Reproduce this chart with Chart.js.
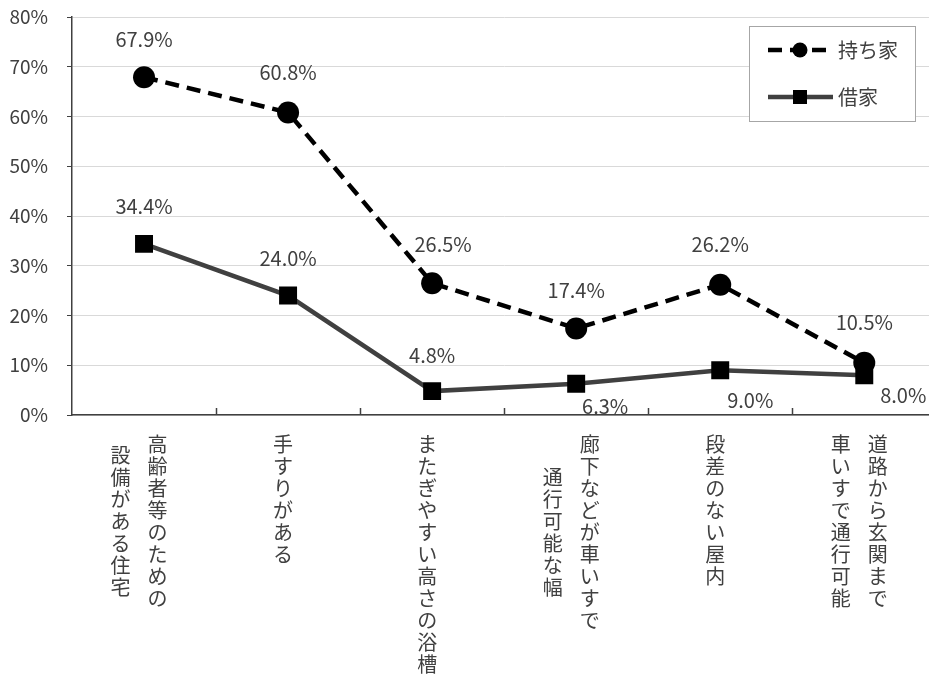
<!DOCTYPE html>
<html>
<head>
<meta charset="utf-8">
<script src="https://cdn.jsdelivr.net/npm/chart.js@4"></script>
<style>
  html, body { margin: 0; padding: 0; background: #fff; overflow: hidden; }
  #wrap { width: 949px; height: 675px; }
</style>
</head>
<body>
<div id="wrap"><canvas id="Chart1" width="949" height="675"></canvas></div>
<script>
// category labels, one entry per vertical text column (right column first)
const categories = [
    ['高齢者等のための', '設備がある住宅'],
    ['手すりがある'],
    ['またぎやすい高さの浴槽'],
    ['廊下などが車いすで', '通行可能な幅'],
    ['段差のない屋内'],
    ['道路から玄関まで', '車いすで通行可能']
];
const ownedData = [67.9, 60.8, 26.5, 17.4, 26.2, 10.5];
const rentedData = [34.4, 24.0, 4.8, 6.3, 9.0, 8.0];
const yTicks = [0, 10, 20, 30, 40, 50, 60, 70, 80];
const seriesNames = ['持ち家', '借家'];

const FONT = '"Noto Sans CJK JP", "Noto Sans", sans-serif';
const TEXT = '#404040';

// label offsets (dx, dy) from each point
const labelOffsets = [
    [[0, -38], [0, -40], [11, -39], [0, -38], [0, -40], [0, -40]],
    [[0, -37], [0, -37], [0, -36], [29, 23], [30, 30], [39, 20]]
];

const decor = {
    id: 'decor',
    afterDraw(chart) {
        const ctx = chart.ctx;
        const x = chart.scales.x;
        const y = chart.scales.y;
        const n = categories.length;
        ctx.save();

        // inner tick marks on the category axis
        ctx.strokeStyle = TEXT;
        ctx.lineWidth = 1.5;
        for (let i = 1; i < n; i++) {
            const px = Math.round(x.left + i * x.width / n) + 0.5;
            ctx.beginPath();
            ctx.moveTo(px, y.bottom - 7);
            ctx.lineTo(px, y.bottom);
            ctx.stroke();
        }

        // vertical category labels
        ctx.fillStyle = TEXT;
        ctx.font = '20px ' + FONT;
        ctx.textAlign = 'center';
        ctx.textBaseline = 'middle';
        const step = 22, colGap = 37, top = 433;
        categories.forEach((cols, i) => {
            const cx = x.getPixelForValue(i) - 5;
            const maxLen = Math.max(...cols.map(c => [...c].length));
            cols.forEach((col, j) => {
                const chars = [...col];
                const colX = cx + ((cols.length - 1) / 2 - j) * colGap;
                const y0 = top + (maxLen - chars.length) * step / 2;
                chars.forEach((ch, k) => ctx.fillText(ch, colX, y0 + k * step + step / 2));
            });
        });

        // data labels
        ctx.font = '20px ' + FONT;
        chart.data.datasets.forEach((ds, d) => {
            const meta = chart.getDatasetMeta(d);
            meta.data.forEach((pt, i) => {
                const off = labelOffsets[d][i];
                ctx.fillText(ds.data[i].toFixed(1) + '%', pt.x + off[0], pt.y + off[1]);
            });
        });

        // legend box
        ctx.fillStyle = '#fff';
        ctx.fillRect(749.5, 26.5, 166, 95);
        ctx.strokeStyle = '#a6a6a6';
        ctx.lineWidth = 1;
        ctx.strokeRect(749.5, 26.5, 166, 95);
        const rows = [50, 97];
        chart.data.datasets.forEach((ds, d) => {
            const ly = rows[d];
            ctx.strokeStyle = ds.borderColor;
            ctx.lineWidth = ds.borderWidth;
            ctx.setLineDash(ds.borderDash || []);
            ctx.beginPath();
            ctx.moveTo(768, ly);
            ctx.lineTo(833, ly);
            ctx.stroke();
            ctx.setLineDash([]);
            ctx.fillStyle = ds.pointBackgroundColor;
            if (ds.pointStyle === 'circle') {
                ctx.beginPath();
                ctx.arc(800, ly, 7.5, 0, Math.PI * 2);
                ctx.fill();
            } else {
                ctx.fillRect(793, ly - 7, 14, 14);
            }
            ctx.fillStyle = TEXT;
            ctx.font = '20px ' + FONT;
            ctx.textAlign = 'left';
            ctx.fillText(ds.label, 838, ly);
        });
        ctx.restore();
    }
};

const ctx1 = document.getElementById('Chart1').getContext('2d');

new Chart(ctx1, {
    type: 'line',
    data: {
        labels: categories.map(c => c.join('')),
        datasets: [{
            label: seriesNames[0],
            data: ownedData,
            borderColor: '#000',
            borderWidth: 4.5,
            borderDash: [14, 8],
            pointStyle: 'circle',
            pointRadius: 11,
            pointBackgroundColor: '#000',
            pointBorderColor: '#000',
            pointBorderWidth: 0,
            tension: 0
        }, {
            label: seriesNames[1],
            data: rentedData,
            borderColor: '#404040',
            borderWidth: 4.5,
            pointStyle: 'rect',
            pointRadius: 12.7,
            pointBackgroundColor: '#000',
            pointBorderColor: '#000',
            pointBorderWidth: 0,
            tension: 0
        }]
    },
    options: {
        responsive: false,
        animation: false,
        layout: { padding: { top: 17, right: 1, left: 0, bottom: 0 } },
        plugins: {
            legend: { display: false },
            tooltip: { enabled: false }
        },
        scales: {
            x: {
                offset: true,
                grid: { display: false },
                border: { display: true, color: TEXT, width: 1.5 },
                ticks: { display: false },
                afterFit: s => { s.height = 260; }
            },
            y: {
                min: yTicks[0],
                max: yTicks[yTicks.length - 1],
                afterBuildTicks: s => { s.ticks = yTicks.map(v => ({ value: v })); },
                grid: { color: '#d9d9d9', lineWidth: 1, tickLength: 5, tickColor: TEXT },
                border: { display: true, color: TEXT, width: 1.5 },
                ticks: {
                    color: TEXT,
                    padding: 19,
                    font: { size: 19, family: FONT },
                    callback: v => v + '%'
                },
                afterFit: s => {
                    s.width = 72;
                    s.paddingTop = 0;
                    s.paddingBottom = 0;
                }
            }
        }
    },
    plugins: [decor]
});
</script>
</body>
</html>
